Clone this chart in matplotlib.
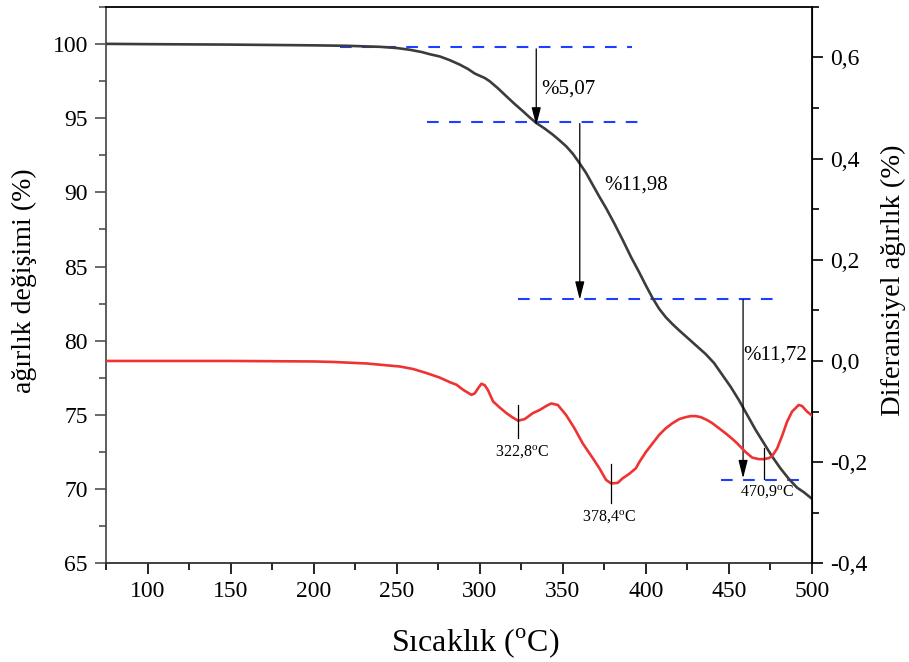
import matplotlib
matplotlib.use("Agg")
import matplotlib.pyplot as plt
from matplotlib.ticker import MultipleLocator, FuncFormatter

plt.rcParams["font.family"] = ["Liberation Serif", "DejaVu Serif"]
plt.rcParams["mathtext.fontset"] = "custom"
plt.rcParams["mathtext.rm"] = "Liberation Serif"

# TG egrisi (agirlik degisimi, %)
tg_sicaklik = [75, 100, 150, 200, 220, 240, 250, 258, 265, 270, 276, 282, 288, 293,
               297, 300, 303, 306, 311, 316, 321, 326, 330, 334, 339, 344, 348, 352,
               356, 360, 364, 368, 372, 376, 381, 386, 391, 396, 400, 404, 408, 412,
               416, 420, 424, 428, 432, 436, 441, 446, 451, 456, 461, 466, 471, 476,
               481, 486, 491, 495, 500]
tg_agirlik = [100.0, 99.98, 99.95, 99.9, 99.87, 99.8, 99.72, 99.6, 99.45, 99.3, 99.15,
              98.9, 98.6, 98.3, 98.0, 97.85, 97.7, 97.48, 97.0, 96.47, 95.95, 95.46,
              95.05, 94.67, 94.3, 93.88, 93.5, 93.1, 92.6, 91.97, 91.3, 90.5, 89.7,
              88.94, 87.9, 86.8, 85.65, 84.6, 83.72, 82.88, 82.15, 81.58, 81.12, 80.7,
              80.3, 79.9, 79.5, 79.1, 78.5, 77.7, 76.9, 76.0, 75.0, 74.0, 73.1, 72.2,
              71.4, 70.7, 70.1, 69.8, 69.35]

# DTG egrisi (diferansiyel agirlik)
dtg_sicaklik = [75, 150, 200, 212, 232, 252, 260, 268, 276, 282, 286, 290, 295, 297,
                299, 301, 303, 305, 308, 312, 316, 319, 323, 327, 332, 336, 340, 343,
                347, 352, 357, 362, 368, 372, 376, 379, 383, 386, 390, 394, 396, 400,
                404, 408, 412, 416, 420, 424, 427, 430, 433, 437, 440, 444, 448, 452,
                455, 460, 464, 468, 471, 474, 476, 479, 482, 485, 488, 492, 494, 497,
                500]
dtg_deger = [0.0, 0.0, -0.001, -0.002, -0.005, -0.011, -0.016, -0.024, -0.033, -0.042,
             -0.047, -0.057, -0.067, -0.064, -0.054, -0.045, -0.048, -0.058, -0.08,
             -0.092, -0.103, -0.11, -0.118, -0.115, -0.103, -0.097, -0.089, -0.084,
             -0.087, -0.107, -0.133, -0.163, -0.192, -0.212, -0.235, -0.242, -0.241,
             -0.232, -0.223, -0.212, -0.2, -0.18, -0.163, -0.146, -0.133, -0.123,
             -0.115, -0.111, -0.109, -0.109, -0.111, -0.117, -0.123, -0.133, -0.143,
             -0.154, -0.163, -0.18, -0.191, -0.194, -0.194, -0.192, -0.188, -0.173,
             -0.148, -0.12, -0.1, -0.087, -0.089, -0.1, -0.108]

# kesikli seviye cizgileri: (y, x baslangic, x bitis)
seviye_y = [99.8, 94.76, 82.8, 70.62]
seviye_x0 = [216, 268, 323, 445.5]
seviye_x1 = [391.5, 396, 476.5, 492]

# kutle kaybi oklari
ok_x = [334, 360.2, 458.5]
ok_ust = [99.66, 94.63, 82.76]
ok_alt = [94.49, 82.76, 70.73]
kayip_etiket = ["%5,07", "%11,98", "%11,72"]
kayip_x = [337.1, 374.8, 458.9]
kayip_y = [96.97, 90.51, 79.05]

# DTG pik isaretleri
pik_x = [323.0, 378.7, 471.1]
pik_ust = [-0.087, -0.204, -0.173]
pik_alt = [-0.153, -0.281, -0.233]
pik_etiket = ["322,8$^{\\mathrm{o}}$C", "378,4$^{\\mathrm{o}}$C", "470,9$^{\\mathrm{o}}$C"]
pik_lx = [325.6, 378.0, 472.7]
pik_ly = [-0.181, -0.308, -0.26]

fig = plt.figure(figsize=(9.09, 6.62), dpi=100)
ax = fig.add_axes([0.1166, 0.149, 0.7767, 0.8408])
ax2 = ax.twinx()

ax.plot(tg_sicaklik, tg_agirlik, color="#3c3c3c", lw=1.9, zorder=3)
ax2.plot(dtg_sicaklik, dtg_deger, color="#ee3333", lw=1.9, zorder=3)

for y, x0, x1 in zip(seviye_y, seviye_x0, seviye_x1):
    ax.plot([x0, x1], [y, y], color="#1f3fff", lw=1.5, dashes=(5.6, 5), zorder=2)

for x, y0, y1 in zip(ok_x, ok_ust, ok_alt):
    ax.annotate("", xy=(x, y1), xytext=(x, y0),
                arrowprops=dict(arrowstyle="-|>,head_length=1.1,head_width=0.28",
                                mutation_scale=10, color="black", lw=0.9,
                                shrinkA=0, shrinkB=0), zorder=4)
for t, x, y in zip(kayip_etiket, kayip_x, kayip_y):
    ax.text(x, y, t, fontsize=15, ha="left", va="center")

for x, y0, y1 in zip(pik_x, pik_ust, pik_alt):
    ax2.plot([x, x], [y0, y1], color="black", lw=0.9, zorder=4)
for t, x, y in zip(pik_etiket, pik_lx, pik_ly):
    ax2.text(x, y, t, fontsize=11.5, ha="center", va="center")

ax.set_xlim(75, 500)
ax.set_ylim(65, 102.5)
ax2.set_ylim(-0.4, 0.7)

ax.xaxis.set_major_locator(MultipleLocator(50))
ax.xaxis.set_minor_locator(MultipleLocator(25))
ax.yaxis.set_major_locator(MultipleLocator(5))
ax.yaxis.set_minor_locator(MultipleLocator(2.5))
ax2.yaxis.set_major_locator(MultipleLocator(0.2))
ax2.yaxis.set_minor_locator(MultipleLocator(0.1))
ax2.yaxis.set_major_formatter(FuncFormatter(lambda v, p: f"{v:.1f}".replace(".", ",").replace("-0,0", "0,0")))

for a in (ax, ax2):
    a.tick_params(which="major", direction="out", length=8, width=1.2, labelsize=17, pad=5)
    a.tick_params(which="minor", direction="out", length=5, width=1.2)
ax.tick_params(axis="x", which="both", top=False)

ax.spines["left"].set_color("#505050")
ax.spines["bottom"].set_color("#303030")
ax.tick_params(axis="y", which="both", color="#505050")
for s in ("left", "bottom", "top"):
    ax.spines[s].set_linewidth(1.3)
for s in ax2.spines.values():
    s.set_visible(False)
ax2.spines["right"].set_visible(True)
ax2.spines["right"].set_linewidth(1.3)

ax.set_xlabel("Sıcaklık ($^{\\mathrm{o}}$C)", fontsize=23, va="center")
ax.xaxis.set_label_coords(0.523, -0.143)
ax.set_ylabel("ağırlık değişimi (%)", fontsize=20, va="center")
ax.yaxis.set_label_coords(-0.115, 0.508)
ax2.set_ylabel("Diferansiyel ağırlık (%)", fontsize=20.5, va="center")
ax2.yaxis.set_label_coords(1.115, 0.509)

fig.savefig("out.png", dpi=100)
